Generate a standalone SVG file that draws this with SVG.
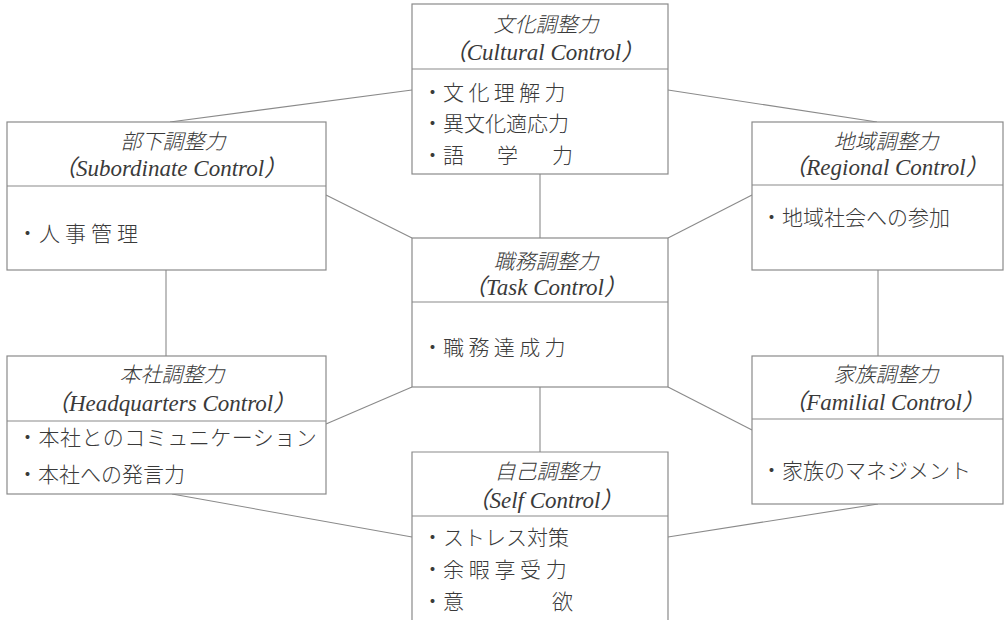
<svg xmlns="http://www.w3.org/2000/svg" width="1005" height="620" viewBox="0 0 1005 620">
<style>
.box{fill:#fff;stroke:#8a8a8a;stroke-width:1.2}
.div{stroke:#8a8a8a;stroke-width:1.2}
.con line{stroke:#8a8a8a;stroke-width:1.1}
.t{font-family:"Noto Sans CJK JP","Liberation Serif",sans-serif;font-style:italic;font-size:21px;font-weight:300;fill:#3a3a3a;text-anchor:middle}
.s{font-family:"Liberation Serif","Noto Sans CJK JP",serif;font-style:italic;font-size:23px;fill:#3a3a3a;text-anchor:middle}
.b{font-family:"Noto Sans CJK JP",sans-serif;font-size:21px;fill:#3a3a3a;font-weight:300}
</style>
<rect width="1005" height="620" fill="#fff"/>
<g class="con">
<line x1="412" y1="90" x2="170" y2="122"/>
<line x1="668" y1="90" x2="877" y2="122"/>
<line x1="540" y1="174" x2="540" y2="238"/>
<line x1="326" y1="195" x2="412" y2="238"/>
<line x1="752" y1="195" x2="668" y2="238"/>
<line x1="166" y1="270" x2="166" y2="356"/>
<line x1="878" y1="270" x2="878" y2="356"/>
<line x1="412" y1="387" x2="326" y2="424"/>
<line x1="668" y1="387" x2="752" y2="430"/>
<line x1="540" y1="387" x2="540" y2="452"/>
<line x1="172" y1="494" x2="412" y2="537"/>
<line x1="878" y1="504" x2="668" y2="537"/>
</g>
<g id="cultural">
<rect class="box" x="412" y="4" width="256" height="170"/>
<line class="div" x1="412" y1="69" x2="668" y2="69"/>
<text class="t" x="546" y="32">文化調整力</text>
<text class="s" x="544" y="60">（Cultural Control）</text>
<text class="b" x="422 443" y="100" letter-spacing="4.4">・文化理解力</text>
<text class="b" x="422" y="131">・異文化適応力</text>
<text class="b" x="422 443 497 552" y="163">・語学力</text>
</g>
<g id="subordinate">
<rect class="box" x="7" y="122" width="319" height="148"/>
<line class="div" x1="7" y1="186" x2="326" y2="186"/>
<text class="t" x="173" y="149">部下調整力</text>
<text class="s" x="170" y="176">（Subordinate Control）</text>
<text class="b" x="17 39" y="241" letter-spacing="5">・人事管理</text>
</g>
<g id="regional">
<rect class="box" x="752" y="122" width="251" height="148"/>
<line class="div" x1="752" y1="185" x2="1003" y2="185"/>
<text class="t" x="886" y="149">地域調整力</text>
<text class="s" x="886" y="175">（Regional Control）</text>
<text class="b" x="761" y="225">・地域社会への参加</text>
</g>
<g id="task">
<rect class="box" x="412" y="238" width="256" height="149"/>
<line class="div" x1="412" y1="302" x2="668" y2="302"/>
<text class="t" x="546" y="269">職務調整力</text>
<text class="s" x="545" y="295">（Task Control）</text>
<text class="b" x="422 443" y="355" letter-spacing="4.4">・職務達成力</text>
</g>
<g id="headquarters">
<rect class="box" x="7" y="356" width="319" height="138"/>
<line class="div" x1="7" y1="421" x2="326" y2="421"/>
<text class="t" x="172" y="382">本社調整力</text>
<text class="s" x="171" y="411">（Headquarters Control）</text>
<text class="b" x="17" y="445" letter-spacing="0.5">・本社とのコミュニケーション</text>
<text class="b" x="17" y="482">・本社への発言力</text>
</g>
<g id="familial">
<rect class="box" x="752" y="356" width="251" height="148"/>
<line class="div" x1="752" y1="419" x2="1003" y2="419"/>
<text class="t" x="886" y="382">家族調整力</text>
<text class="s" x="884" y="410">（Familial Control）</text>
<text class="b" x="761" y="478">・家族のマネジメント</text>
</g>
<g id="self">
<path class="box" d="M412 625 V452 H668 V625"/>
<line class="div" x1="412" y1="516" x2="668" y2="516"/>
<text class="t" x="547" y="479">自己調整力</text>
<text class="s" x="545" y="508">（Self Control）</text>
<text class="b" x="422" y="545">・ストレス対策</text>
<text class="b" x="422 443" y="577" letter-spacing="4.7">・余暇享受力</text>
<text class="b" x="422 443 552" y="609">・意欲</text>
</g>
</svg>
